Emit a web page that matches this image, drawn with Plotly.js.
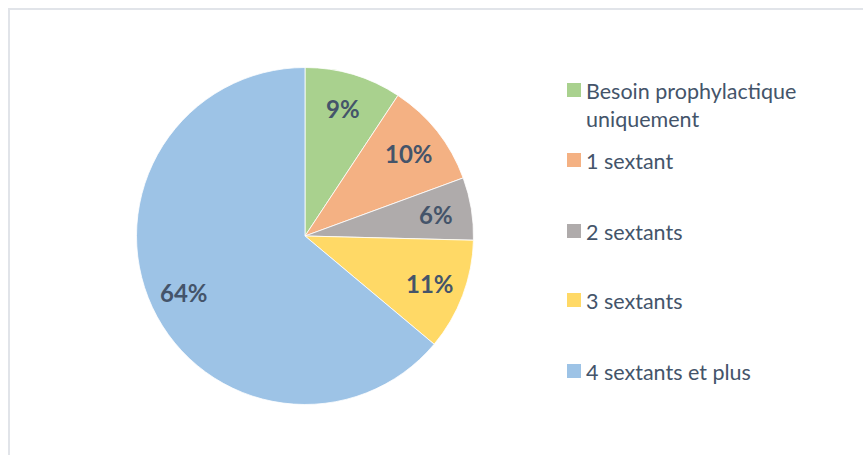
<!DOCTYPE html>
<html>
<head>
<meta charset="utf-8">
<script src="https://cdn.plot.ly/plotly-3.0.1.min.js"></script>
<style>
  html, body { margin: 0; padding: 0; background: #ffffff; }
  #wrap { position: relative; width: 863px; height: 455px; overflow: hidden; }
  #frame { position: absolute; left: 8px; top: 8px; width: 900px; height: 500px;
           border-left: 2px solid #e1e4e9; border-top: 2px solid #e1e4e9; }
  #chart { position: absolute; left: 0; top: 0; width: 863px; height: 455px; }
</style>
</head>
<body>
<div id="wrap">
  <div id="frame"></div>
  <div id="chart"></div>
</div>
<script>
// Data (shares read from the slice boundaries; labels show them rounded)
const labels = ["Besoin prophylactique uniquement", "1 sextant", "2 sextants", "3 sextants", "4 sextants et plus"];
const legendText = ["Besoin prophylactique<br>uniquement", "1 sextant", "2 sextants", "3 sextants", "4 sextants et plus"];
const values = [9.3, 10.1, 6.0, 10.7, 63.9];
const colors = ["#A9D18E", "#F4B183", "#AFABAB", "#FFD966", "#9DC3E6"];

const W = 863, H = 455;
const textColor = "#44546A";
const fontFam = "Lato, 'Open Sans', sans-serif";

// Pie geometry (pixels)
const cx = 305, cy = 236, r = 168.5;

const trace = {
  type: "pie",
  labels: labels,
  values: values,
  sort: false,
  direction: "clockwise",
  rotation: 0,
  marker: { colors: colors, line: { color: "#ffffff", width: 0.8 } },
  textinfo: "none",
  hoverinfo: "label+percent",
  showlegend: false,
  domain: { x: [(cx - r) / W, (cx + r) / W], y: [1 - (cy + r) / H, 1 - (cy - r) / H] }
};

const shapes = [];
const annotations = [];

// Percentage labels placed along each slice's bisector (Excel-style, ~0.79 r)
const total = values.reduce((a, b) => a + b, 0);
let cum = 0;
for (let i = 0; i < values.length; i++) {
  const frac = values[i] / total;
  const mid = (cum + frac / 2) * 2 * Math.PI;
  cum += frac;
  const px = cx + 0.79 * r * Math.sin(mid);
  const py = cy - 0.79 * r * Math.cos(mid);
  annotations.push({
    xref: "paper", yref: "paper",
    x: px / W, y: 1 - py / H,
    xanchor: "center", yanchor: "middle",
    showarrow: false,
    text: Math.round(frac * 100) + "%",
    font: { family: fontFam, size: 24, color: textColor, weight: "bold" }
  });
}

// Manual legend (pixel centre of the first line of each entry)
const legendY = [90, 160, 231, 300, 371];
const sqX = 567, sqSize = 14, txtX = 584;
for (let i = 0; i < labels.length; i++) {
  const y = legendY[i];
  shapes.push({
    type: "rect", xref: "paper", yref: "paper",
    x0: sqX / W, x1: (sqX + sqSize) / W,
    y0: 1 - (y + sqSize / 2) / H, y1: 1 - (y - sqSize / 2) / H,
    fillcolor: colors[i], line: { width: 0 }
  });
  annotations.push({
    xref: "paper", yref: "paper",
    x: txtX / W, y: 1 - (y - 14.5) / H,
    xanchor: "left", yanchor: "top", align: "left",
    showarrow: false,
    text: legendText[i],
    font: { family: fontFam, size: 21.5, color: textColor }
  });
}

const layout = {
  width: W, height: H,
  margin: { l: 0, r: 0, t: 0, b: 0 },
  paper_bgcolor: "rgba(0,0,0,0)",
  plot_bgcolor: "rgba(0,0,0,0)",
  showlegend: false,
  shapes: shapes,
  annotations: annotations
};

Plotly.newPlot("chart", [trace], layout, { displayModeBar: false, staticPlot: true });
</script>
</body>
</html>
